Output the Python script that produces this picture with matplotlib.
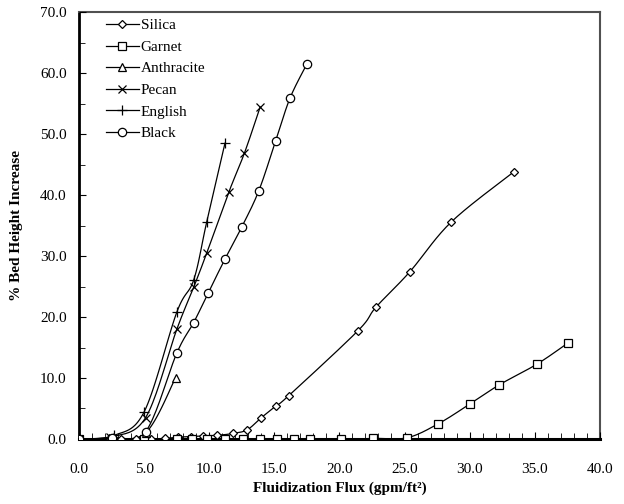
import numpy as np
import matplotlib
matplotlib.use("Agg")
import matplotlib.pyplot as plt
from matplotlib.lines import Line2D
from matplotlib.ticker import MultipleLocator, FormatStrFormatter

plt.rcParams["font.family"] = ["Liberation Serif", "DejaVu Serif"]

silica_x = [0, 2.5, 3.2, 4.4, 5.5, 6.6, 7.6, 8.6, 9.5, 10.6, 11.8, 12.9,
            14.0, 15.1, 16.1, 21.4, 22.8, 25.4, 28.6, 33.4]
silica_y = [0, 0, 0, 0, 0, 0.1, 0.3, 0.4, 0.5, 0.6, 0.9, 1.5,
            3.5, 5.4, 7.1, 17.7, 21.6, 27.4, 35.6, 43.8]

garnet_x = [0, 2.5, 5.0, 7.5, 8.7, 9.8, 11.2, 12.6, 13.9, 15.2, 16.5, 17.7,
            20.1, 22.6, 25.2, 27.6, 30.0, 32.3, 35.2, 37.6]
garnet_y = [0, 0, 0, 0, 0, 0, 0, 0, 0, 0, 0, 0,
            0, 0.1, 0.2, 2.5, 5.7, 8.9, 12.3, 15.8]

anthracite_x = [0, 2.3, 5.1, 7.4]
anthracite_y = [0, 0.2, 1.0, 10.0]

pecan_x = [0, 2.4, 5.1, 7.5, 8.8, 9.8, 11.5, 12.7, 13.9]
pecan_y = [0, 0.3, 3.5, 18.0, 24.9, 30.5, 40.5, 46.9, 54.4]

english_x = [0, 2.7, 5.0, 7.5, 8.8, 9.8, 11.2]
english_y = [0, 0.6, 4.5, 20.8, 26.1, 35.6, 48.5]

black_x = [0, 2.5, 5.1, 7.5, 8.8, 9.9, 11.2, 12.5, 13.8, 15.1, 16.2, 17.5]
black_y = [0, 0.2, 1.2, 14.1, 19.1, 23.9, 29.5, 34.8, 40.7, 48.9, 55.9, 61.5]

series = [
    ("Silica", silica_x, silica_y, "D", 4.3),
    ("Garnet", garnet_x, garnet_y, "s", 6),
    ("Anthracite", anthracite_x, anthracite_y, "^", 6),
    ("Pecan", pecan_x, pecan_y, "x", 6),
    ("English", english_x, english_y, "+", 6.5),
    ("Black", black_x, black_y, "o", 6),
]


def smooth(x, y, n=20):
    # spreadsheet-style smoothed line through the points (Catmull-Rom bezier)
    p = np.column_stack([x, y]).astype(float)
    p = np.vstack([p[0], p, p[-1]])
    t = np.linspace(0, 1, n)[:, None]
    out = []
    for i in range(1, len(p) - 2):
        p0, p1, p2, p3 = p[i - 1], p[i], p[i + 1], p[i + 2]
        c1 = p1 + (p2 - p0) / 6
        c2 = p2 - (p3 - p1) / 6
        seg = ((1 - t) ** 3) * p1 + 3 * ((1 - t) ** 2) * t * c1 \
            + 3 * (1 - t) * t ** 2 * c2 + t ** 3 * p2
        out.append(seg)
    seg = np.vstack(out)
    return seg[:, 0], seg[:, 1]


fig = plt.figure(figsize=(6.24, 5.04), dpi=100)
ax = fig.add_axes([0.127, 0.129, 0.834, 0.847])

handles = []
for name, xs, ys, mk, ms in series:
    sx, sy = smooth(xs, ys)
    ax.plot(sx, sy, color="black", lw=0.9, zorder=2)
    fc = "none" if mk in ("x", "+") else "white"
    ax.plot(xs, ys, ls="none", marker=mk, ms=ms, mfc=fc, mec="black",
            mew=0.9, zorder=3)
    handles.append(Line2D([], [], color="black", lw=0.9, marker=mk, ms=ms,
                          mfc=fc, mec="black", mew=0.9))

ax.set_xlim(0, 40)
ax.set_ylim(0, 70)
ax.xaxis.set_major_locator(MultipleLocator(5))
ax.xaxis.set_minor_locator(MultipleLocator(1))
ax.yaxis.set_major_locator(MultipleLocator(10))
ax.yaxis.set_minor_locator(MultipleLocator(5))
ax.xaxis.set_major_formatter(FormatStrFormatter("%.1f"))
ax.yaxis.set_major_formatter(FormatStrFormatter("%.1f"))
ax.tick_params(axis="both", which="both", direction="in", labelsize=11,
               top=False, right=False)
ax.tick_params(axis="x", which="major", length=5, pad=17)
ax.tick_params(axis="x", which="minor", length=4)
ax.tick_params(axis="y", which="major", length=5, pad=9)
ax.tick_params(axis="y", which="minor", length=4)

ax.spines["left"].set_linewidth(2.0)
ax.spines["bottom"].set_linewidth(2.2)
ax.spines["top"].set_color("#505050")
ax.spines["right"].set_color("#505050")
ax.spines["top"].set_linewidth(1.5)
ax.spines["right"].set_linewidth(1.5)
ax.set_axisbelow(False)

ax.set_xlabel("Fluidization Flux (gpm/ft²)", fontsize=11, fontweight="bold",
              labelpad=4)
ax.set_ylabel("% Bed Height Increase", fontsize=11, fontweight="bold",
              labelpad=12)

ax.legend(handles, [s[0] for s in series], loc="upper left",
          bbox_to_anchor=(0.03, 1.01), frameon=False, fontsize=11,
          handlelength=2.2, handletextpad=0.1, labelspacing=0.52,
          borderaxespad=0.3)

fig.savefig("out.png", dpi=100)
